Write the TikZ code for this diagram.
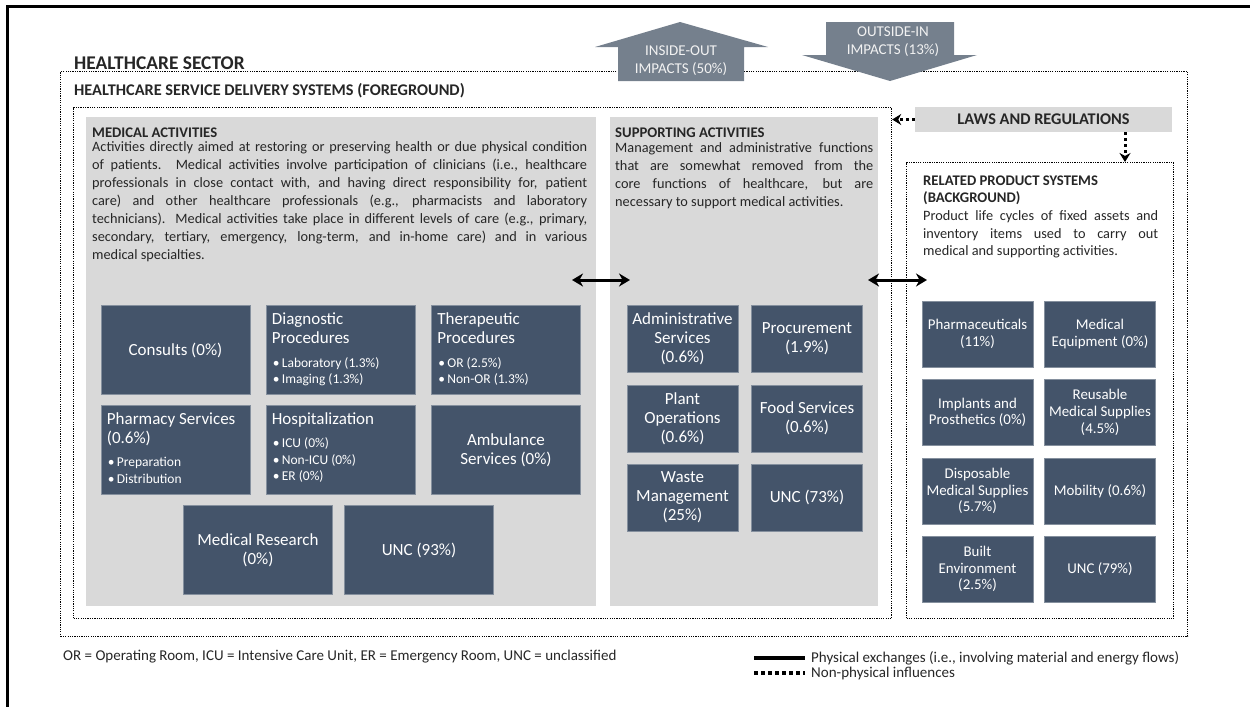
\documentclass[tikz,border=0pt]{standalone}
\usepackage{fontspec}
\setmainfont{Carlito}
\usetikzlibrary{arrows.meta,positioning}

\definecolor{boxblue}{RGB}{68,84,106}
\definecolor{panelgray}{RGB}{217,217,217}
\definecolor{impactgray}{RGB}{117,128,141}
\definecolor{inktext}{RGB}{38,38,38}

% one justified line of a text block: width, text
\newcommand{\fullline}[2]{\makebox[#1][s]{#2}}
% bullet item inside the dark boxes
\newcommand{\bul}{\makebox[9pt][l]{\textbullet}}

\begin{document}
\begin{tikzpicture}[x=1pt, y=-1pt, >={Stealth[length=11pt,width=13pt]},
    frameline/.style={line width=3pt},
    dotbox/.style={draw=black, line width=1.2pt, dash pattern=on 1.2pt off 1.1pt,
                   anchor=north west, inner sep=0pt},
    panel/.style={fill=panelgray, anchor=north west, inner sep=0pt},
    impact/.style={fill=impactgray},
    impacttext/.style={text=white!95!black, align=center, font=\fontsize{15}{18}\selectfont},
    heading/.style={anchor=base west, inner sep=0pt, text=inktext},
    bodytext/.style={anchor=north west, inner sep=0pt, align=left, text=inktext,
                     font=\fontsize{14.3}{18}\selectfont},
    actbox/.style={fill=boxblue, draw=boxblue!65!white, line width=0.6pt, text=white,
                   align=center, inner sep=0pt},
    medcell/.style={actbox, minimum width=149pt, minimum height=89pt,
                    font=\fontsize{17}{19}\selectfont},
    supcell/.style={actbox, minimum width=111pt, minimum height=67pt,
                    font=\fontsize{17}{19}\selectfont},
    relcell/.style={actbox, minimum width=111pt, minimum height=66pt,
                    font=\fontsize{14.9}{16.7}\selectfont},
    celltitle/.style={anchor=north west, inner sep=0pt, align=left, text=white,
                      font=\fontsize{17}{19}\selectfont},
    cellitems/.style={anchor=north west, inner sep=0pt, align=left, text=white,
                      font=\fontsize{13.5}{16.5}\selectfont},
    physical/.style={line width=3pt},
    influence/.style={line width=3pt, dash pattern=on 3pt off 3pt},
    legendtext/.style={anchor=west, inner sep=0pt, text=inktext,
                       font=\fontsize{15}{17}\selectfont}]

  \useasboundingbox (0,0) rectangle (1250,707);

  % Frame
  \draw[frameline] (1250,6) -- (7,6) -- (7,707);

  %%%%%%%%%%%%%%%%%%%%%%%%%%%%%%%%%%%%%%%%%%%%%%%%%
  % Healthcare sector
  \node[dotbox, minimum width=1127pt, minimum height=565pt] (sectorbox) at (60,71) {};
  \node[heading, font=\fontsize{19.4}{22}\selectfont\bfseries] (sectortitle) at (74,69)
      {HEALTHCARE SECTOR};

  % Impact arrows
  \fill[impact] (595,47) -- (680,22) -- (768,47) -- (744,47) -- (744,81)
      -- (618,81) -- (618,47) -- cycle;
  \node[impacttext] (insideout) at (681,61) {INSIDE-OUT\\IMPACTS (50\%)};

  \fill[impact] (826,22) -- (954,22) -- (954,55) -- (977,55) -- (890,81)
      -- (802,55) -- (826,55) -- cycle;
  \node[impacttext] (outsidein) at (893,41.5) {OUTSIDE-IN\\IMPACTS (13\%)};

  %%%%%%%%%%%%%%%%%%%%%%%%%%%%%%%%%%%%%%%%%%%%%%%%%
  % Foreground
  \node[dotbox, minimum width=818pt, minimum height=511pt] (fgbox) at (73,107) {};
  \node[heading, font=\fontsize{16.3}{19}\selectfont\bfseries] (fgtitle) at (74,95.5)
      {HEALTHCARE SERVICE DELIVERY SYSTEMS (FOREGROUND)};

  % Medical activities
  \node[panel, minimum width=510pt, minimum height=489pt] (medpanel) at (86,117) {};
  \node[heading, font=\fontsize{14.7}{17}\selectfont\bfseries] (medtitle) at (92,137)
      {MEDICAL ACTIVITIES};
  \node[bodytext] (medtext) at (92,139) {%
    \fullline{495pt}{\strut Activities directly aimed at restoring or preserving health or due physical condition}\\
    \fullline{495pt}{of patients. Medical activities involve participation of clinicians (i.e., healthcare}\\
    \fullline{495pt}{professionals in close contact with, and having direct responsibility for, patient}\\
    \fullline{495pt}{care) and other healthcare professionals (e.g., pharmacists and laboratory}\\
    \fullline{495pt}{technicians). Medical activities take place in different levels of care (e.g., primary,}\\
    \fullline{495pt}{secondary, tertiary, emergency, long-term, and in-home care) and in various}\\
    medical specialties.};

  \node[medcell] (consults) at (175.5,350) {Consults (0\%)};
  \node[medcell] (diag) at (340.5,350) {};
  \node[celltitle] (diagtitle) at ([shift={(6,6)}]diag.north west) {\strut Diagnostic\\Procedures};
  \node[cellitems] (diagitems) at ([shift={(7,50.5)}]diag.north west)
      {\strut\bul Laboratory (1.3\%)\\\bul Imaging (1.3\%)};
  \node[medcell] (ther) at (506,350) {};
  \node[celltitle] (thertitle) at ([shift={(6,6)}]ther.north west) {\strut Therapeutic\\Procedures};
  \node[cellitems] (theritems) at ([shift={(7,50.5)}]ther.north west)
      {\strut\bul OR (2.5\%)\\\bul Non-OR (1.3\%)};

  \node[medcell] (pharm) at (175.5,450) {};
  \node[celltitle] (pharmtitle) at ([shift={(6,5.7)}]pharm.north west) {\strut Pharmacy Services\\(0.6\%)};
  \node[cellitems] (pharmitems) at ([shift={(7,50)}]pharm.north west)
      {\strut\bul Preparation\\\bul Distribution};
  \node[medcell] (hosp) at (340.5,450) {};
  \node[celltitle] (hosptitle) at ([shift={(6,5.7)}]hosp.north west) {\strut Hospitalization};
  \node[cellitems] (hospitems) at ([shift={(7,31)}]hosp.north west)
      {\strut\bul ICU (0\%)\\\bul Non-ICU (0\%)\\\bul ER (0\%)};
  \node[medcell] (amb) at (506,450) {Ambulance\\Services (0\%)};

  \node[medcell] (medres) at (258,550) {Medical Research\\(0\%)};
  \node[medcell] (medunc) at (419,550) {UNC (93\%)};

  % Supporting activities
  \node[panel, minimum width=268pt, minimum height=489pt] (suppanel) at (610,117) {};
  \node[heading, font=\fontsize{14.7}{17}\selectfont\bfseries] (suptitle) at (615,137)
      {SUPPORTING ACTIVITIES};
  \node[bodytext] (suptext) at (615,140) {%
    \fullline{258pt}{\strut Management and administrative functions}\\
    \fullline{258pt}{that are somewhat removed from the}\\
    \fullline{258pt}{core functions of healthcare, but are}\\
    necessary to support medical activities.};

  \node[supcell] (admin) at (682.5,338.5) {Administrative\\Services\\(0.6\%)};
  \node[supcell] (procure) at (807,338.5) {Procurement\\(1.9\%)};
  \node[supcell] (plant) at (682.5,418.5) {Plant\\Operations\\(0.6\%)};
  \node[supcell] (food) at (807,418.5) {Food Services\\(0.6\%)};
  \node[supcell] (waste) at (682.5,497.5) {Waste\\Management\\(25\%)};
  \node[supcell] (supunc) at (807,497.5) {UNC (73\%)};

  %%%%%%%%%%%%%%%%%%%%%%%%%%%%%%%%%%%%%%%%%%%%%%%%%
  % Laws and regulations
  \node[panel, anchor=center, minimum width=257pt, minimum height=25pt, text=inktext,
        font=\fontsize{16.3}{19}\selectfont\bfseries] (laws) at (1043.5,119.5)
      {LAWS AND REGULATIONS};

  %%%%%%%%%%%%%%%%%%%%%%%%%%%%%%%%%%%%%%%%%%%%%%%%%
  % Background
  \node[dotbox, minimum width=267pt, minimum height=456pt] (relbox) at (906,162) {};
  \node[bodytext, font=\fontsize{14.7}{17}\selectfont\bfseries] (reltitle) at (923,173)
      {\strut RELATED PRODUCT SYSTEMS\\(BACKGROUND)};
  \node[bodytext, font=\fontsize{14.3}{17.5}\selectfont] (reltext) at (923,208.5) {%
    \fullline{235pt}{\strut Product life cycles of fixed assets and}\\
    \fullline{235pt}{inventory items used to carry out}\\
    medical and supporting activities.};

  \node[relcell] (pharma) at (977.5,334) {Pharmaceuticals\\(11\%)};
  \node[relcell] (equip) at (1100,334) {Medical\\Equipment (0\%)};
  \node[relcell] (implants) at (977.5,412.5) {Implants and\\Prosthetics (0\%)};
  \node[relcell] (reusable) at (1100,412.5) {Reusable\\Medical Supplies\\(4.5\%)};
  \node[relcell] (dispos) at (977.5,491) {Disposable\\Medical Supplies\\(5.7\%)};
  \node[relcell] (mobility) at (1100,491) {Mobility (0.6\%)};
  \node[relcell] (built) at (977.5,569) {Built\\Environment\\(2.5\%)};
  \node[relcell] (relunc) at (1100,569) {UNC (79\%)};

  %%%%%%%%%%%%%%%%%%%%%%%%%%%%%%%%%%%%%%%%%%%%%%%%%
  % Exchanges and influences
  \coordinate (medlink) at (572,280);
  \coordinate (suplink) at (630,280);
  \coordinate (suplinkout) at (868,280);
  \coordinate (rellink) at (927,280);
  \draw[physical, <->] (medlink) -- (suplink);
  \draw[physical, <->] (suplinkout) -- (rellink);

  \draw[influence, ->, >={Stealth[length=9pt,width=11pt]}] (laws.west) -- (laws.west -| fgbox.east);
  \draw[influence, ->, >={Stealth[length=9pt,width=11pt]}]
      ([xshift=81.5pt]laws.south) -- ([xshift=81.5pt]laws.south |- relbox.north);

  %%%%%%%%%%%%%%%%%%%%%%%%%%%%%%%%%%%%%%%%%%%%%%%%%
  % Legend
  \node[legendtext] (abbrev) at (63,657)
      {OR = Operating Room, ICU = Intensive Care Unit, ER = Emergency Room, UNC = unclassified};

  \coordinate (physkey) at (754,658);
  \node[legendtext] (physlabel) at (811,658)
      {Physical exchanges (i.e., involving material and energy flows)};
  \draw[line width=4pt] (physkey) -- ([xshift=-6pt]physlabel.west);

  \coordinate (inflkey) at (754,673);
  \node[legendtext] (infllabel) at (811,673) {Non-physical influences};
  \draw[line width=4pt, dash pattern=on 4pt off 3pt] (inflkey) -- ([xshift=-6pt]infllabel.west);

\end{tikzpicture}
\end{document}
